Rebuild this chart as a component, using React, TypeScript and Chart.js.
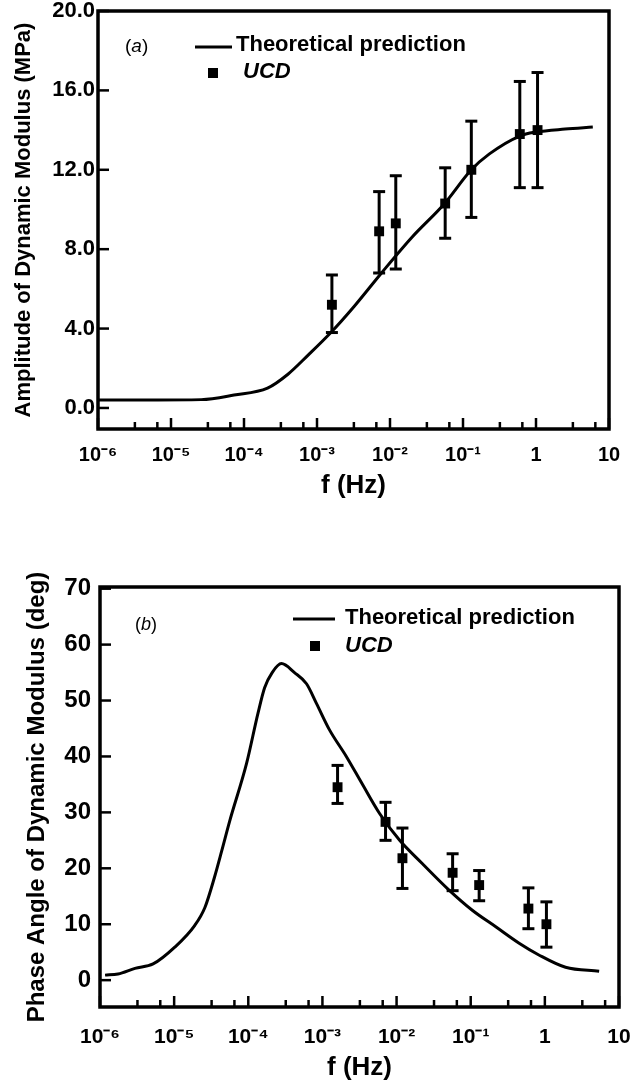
import React, { useEffect, useRef } from "react";
import { Chart, registerables } from "chart.js";

Chart.register(...registerables);

const FONT = "'Liberation Sans', Arial, Helvetica, sans-serif";

// ---- shared frequency axis ----
const freqTicks = [1e-6, 1e-5, 1e-4, 1e-3, 1e-2, 1e-1, 1, 10];
const freqTickLabels = ["10⁻⁶", "10⁻⁵", "10⁻⁴", "10⁻³", "10⁻²", "10⁻¹", "1", "10"];
const minorTickFactors = [3.2, 6.5];

// ---- UCD measurement frequencies (Hz) ----
const freqUCD = [0.0016, 0.0071, 0.012, 0.057, 0.13, 0.6, 1.05];

// ---- (a) amplitude of dynamic modulus (MPa) ----
const ampTicks = [0, 4, 8, 12, 16, 20];
const freqAmpTheory = [1e-6, 5e-6, 2.6e-5, 7.3e-5, 2.1e-4, 4.0e-4, 7.5e-4, 1.55e-3, 3.2e-3, 7.6e-3, 0.02, 0.056, 0.13, 0.23, 0.6, 1.0, 2.5, 6.0];
const ampTheory = [0.4, 0.4, 0.42, 0.65, 1.0, 1.7, 2.65, 3.8, 5.1, 6.79, 8.6, 10.3, 12.0, 12.8, 13.7, 13.9, 14.05, 14.15];
const ampUCD = [5.2, 8.9, 9.3, 10.3, 12.0, 13.8, 14.0];
const ampErrLow = [3.8, 6.8, 7.0, 8.55, 9.6, 11.1, 11.1];
const ampErrHigh = [6.7, 10.9, 11.7, 12.1, 14.45, 16.45, 16.9];

// ---- (b) phase angle of dynamic modulus (deg) ----
const phaseTicks = [0, 10, 20, 30, 40, 50, 60, 70];
const freqPhaseTheory = [1.17e-6, 1.75e-6, 2.96e-6, 5.2e-6, 1.02e-5, 1.9e-5, 2.6e-5, 3.5e-5, 4.4e-5, 5.6e-5, 9.5e-5, 1.35e-4, 1.66e-4, 2.1e-4, 2.8e-4, 4.2e-4, 6.1e-4, 8.3e-4, 1.24e-3, 2.1e-3, 3.4e-3, 5.9e-3, 0.011, 0.022, 0.051, 0.105, 0.22, 0.45, 0.83, 1.9, 5.4];
const phaseTheory = [0.9, 1.1, 2.1, 2.9, 5.9, 9.8, 13, 18.4, 23.2, 28.4, 38.8, 47.7, 52.3, 55, 56.6, 55, 53, 49.5, 44.8, 40.0, 35.2, 29.8, 25, 20.9, 16.1, 12.5, 9.5, 6.6, 4.5, 2.3, 1.6];
const phaseUCD = [34.5, 28.3, 21.8, 19.2, 17.0, 12.8, 10.0];
const phaseErrLow = [31.6, 25.0, 16.4, 16.0, 14.2, 9.2, 5.9];
const phaseErrHigh = [38.4, 31.8, 27.2, 22.6, 19.6, 16.5, 14.0];

const LEGEND_LINE = "Theoretical prediction";
const LEGEND_POINTS = "UCD";

function line(ctx: CanvasRenderingContext2D, x1: number, y1: number, x2: number, y2: number) {
  ctx.beginPath();
  ctx.moveTo(x1, y1);
  ctx.lineTo(x2, y2);
  ctx.stroke();
}

const framePlugin = {
  id: "frame",
  afterDraw(chart: any, _args: any, opts: any) {
    const { ctx, chartArea } = chart;
    const { left, right, top, bottom } = chartArea;
    const xs = chart.scales.x;
    const ys = chart.scales.y;
    ctx.save();
    ctx.strokeStyle = "#000";
    ctx.lineWidth = 2.5;
    xs.ticks.forEach((t: any) => {
      const px = xs.getPixelForValue(t.value);
      line(ctx, px, bottom, px, bottom - opts.major);
    });
    for (let i = 0; i < freqTicks.length - 1; i++) {
      for (const m of minorTickFactors) {
        const px = xs.getPixelForValue(freqTicks[i] * m);
        line(ctx, px, bottom, px, bottom - opts.minor);
      }
    }
    ys.ticks.forEach((t: any) => {
      const py = ys.getPixelForValue(t.value);
      line(ctx, left, py, left + opts.major, py);
    });
    ctx.lineWidth = 3.5;
    ctx.strokeRect(left, top, right - left, bottom - top);
    ctx.restore();
  },
};

const errorBarPlugin = {
  id: "errorBars",
  afterDatasetsDraw(chart: any, _args: any, opts: any) {
    const { ctx } = chart;
    const xs = chart.scales.x;
    const ys = chart.scales.y;
    ctx.save();
    ctx.strokeStyle = "#000";
    ctx.lineWidth = opts.lineWidth;
    opts.x.forEach((f: number, i: number) => {
      const px = xs.getPixelForValue(f);
      const y1 = ys.getPixelForValue(opts.low[i]);
      const y2 = ys.getPixelForValue(opts.high[i]);
      line(ctx, px, y1, px, y2);
      line(ctx, px - opts.cap / 2, y1, px + opts.cap / 2, y1);
      line(ctx, px - opts.cap / 2, y2, px + opts.cap / 2, y2);
    });
    ctx.restore();
  },
};

const legendPlugin = {
  id: "inlineLegend",
  afterDraw(chart: any, _args: any, o: any) {
    const { ctx } = chart;
    const ds = chart.data.datasets;
    ctx.save();
    ctx.strokeStyle = "#000";
    ctx.fillStyle = "#000";
    ctx.lineWidth = 3;
    line(ctx, o.lineX1, o.lineY, o.lineX2, o.lineY);
    ctx.textBaseline = "middle";
    ctx.textAlign = "left";
    ctx.font = `bold ${o.size}px ${FONT}`;
    ctx.fillText(ds[0].label, o.textX, o.textY);
    ctx.fillRect(o.markX - o.mark / 2, o.markY - o.mark / 2, o.mark, o.mark);
    ctx.font = `italic bold ${o.size}px ${FONT}`;
    ctx.fillText(ds[1].label, o.text2X, o.text2Y);
    // panel label "(a)" / "(b)"
    let x = o.panelX;
    const parts = [
      { t: "(", f: `${o.panelSize}px ${FONT}` },
      { t: o.panel, f: `italic ${o.panelSize}px ${FONT}` },
      { t: ")", f: `${o.panelSize}px ${FONT}` },
    ];
    for (const p of parts) {
      ctx.font = p.f;
      ctx.fillText(p.t, x, o.panelY);
      x += ctx.measureText(p.t).width;
    }
    ctx.restore();
  },
};

function makeConfig(p: any) {
  const font = (size: number, weight = "bold") => ({ family: FONT, size, weight });
  return {
    type: "line",
    data: {
      datasets: [
        {
          label: LEGEND_LINE,
          data: p.theoryX.map((f: number, i: number) => ({ x: f, y: p.theoryY[i] })),
          borderColor: "#000",
          backgroundColor: "#000",
          borderWidth: 3,
          pointRadius: 0,
          cubicInterpolationMode: "monotone",
          fill: false,
        },
        {
          label: LEGEND_POINTS,
          data: freqUCD.map((f, i) => ({ x: f, y: p.ucd[i] })),
          showLine: false,
          pointStyle: "rect",
          pointRadius: 7,
          backgroundColor: "#000",
          borderColor: "#000",
          borderWidth: 0,
        },
      ],
    },
    options: {
      animation: false,
      responsive: false,
      maintainAspectRatio: false,
      events: [],
      layout: { padding: { left: 0, right: p.padRight, top: p.padTop, bottom: 0 } },
      plugins: {
        legend: { display: false },
        tooltip: { enabled: false },
        frame: { major: 11, minor: 7 },
        errorBars: { x: freqUCD, low: p.errLow, high: p.errHigh, cap: 12, lineWidth: 3 },
        inlineLegend: p.legend,
      },
      scales: {
        x: {
          type: "logarithmic",
          position: "bottom",
          min: 1e-6,
          max: 10,
          afterBuildTicks: (s: any) => {
            s.ticks = freqTicks.map((v) => ({ value: v }));
          },
          afterFit: (s: any) => {
            s.height = p.xHeight;
            s.paddingLeft = 0;
            s.paddingRight = 0;
          },
          ticks: {
            autoSkip: false,
            maxRotation: 0,
            minRotation: 0,
            padding: p.xTickPad,
            color: "#000",
            font: font(p.xTickSize),
            callback: (_v: any, i: number) => freqTickLabels[i],
          },
          grid: { display: false, drawTicks: false },
          border: { display: false },
          title: {
            display: true,
            text: "f (Hz)",
            color: "#000",
            font: font(26),
            padding: { top: 0, bottom: p.xTitlePad },
          },
        },
        y: {
          type: "linear",
          position: "left",
          min: p.yMin,
          max: p.yMax,
          afterBuildTicks: (s: any) => {
            s.ticks = p.yTicks.map((v: number) => ({ value: v }));
          },
          afterFit: (s: any) => {
            s.width = p.yWidth;
            s.paddingTop = 0;
            s.paddingBottom = 0;
          },
          ticks: {
            padding: p.yTickPad,
            color: "#000",
            font: font(p.yTickSize),
            callback: p.yFormat,
          },
          grid: { display: false, drawTicks: false },
          border: { display: false },
          title: {
            display: true,
            text: p.yTitle,
            color: "#000",
            font: font(p.yTitleSize),
            padding: { top: p.yTitlePad, bottom: 0 },
          },
        },
      },
    },
    plugins: [framePlugin, errorBarPlugin, legendPlugin],
  };
}

const amplitudeConfig = () =>
  makeConfig({
    theoryX: freqAmpTheory,
    theoryY: ampTheory,
    ucd: ampUCD,
    errLow: ampErrLow,
    errHigh: ampErrHigh,
    yMin: -1.06,
    yMax: 20,
    yTicks: ampTicks,
    yFormat: (v: number) => Number(v).toFixed(1),
    yTitle: "Amplitude of Dynamic Modulus (MPa)",
    yTitleSize: 22,
    yTitlePad: 11,
    yTickSize: 22,
    yTickPad: 3,
    yWidth: 98,
    xHeight: 76,
    xTickPad: 14,
    xTickSize: 20,
    xTitlePad: 4,
    padTop: 11,
    padRight: 22,
    legend: {
      lineX1: 195, lineX2: 232, lineY: 47,
      textX: 236, textY: 45, size: 22,
      markX: 213, markY: 73, mark: 10,
      text2X: 243, text2Y: 72,
      panel: "a", panelX: 125, panelY: 47, panelSize: 19,
    },
  });

const phaseConfig = () =>
  makeConfig({
    theoryX: freqPhaseTheory,
    theoryY: phaseTheory,
    ucd: phaseUCD,
    errLow: phaseErrLow,
    errHigh: phaseErrHigh,
    yMin: -4.8,
    yMax: 70.3,
    yTicks: phaseTicks,
    yFormat: (v: number) => String(v),
    yTitle: "Phase Angle of Dynamic Modulus (deg)",
    yTitleSize: 24,
    yTitlePad: 23,
    yTickSize: 24,
    yTickPad: 9,
    yWidth: 100,
    xHeight: 81,
    xTickPad: 18,
    xTickSize: 21,
    xTitlePad: 5,
    padTop: 82,
    padRight: 12,
    legend: {
      lineX1: 293, lineX2: 335, lineY: 114,
      textX: 345, textY: 113, size: 22,
      markX: 315, markY: 141, mark: 10,
      text2X: 345, text2Y: 141,
      panel: "b", panelX: 135, panelY: 120, panelSize: 18,
    },
  });

function PanelChart({ makeCfg, top, height }: { makeCfg: () => any; top: number; height: number }) {
  const ref = useRef<HTMLCanvasElement>(null);
  useEffect(() => {
    if (!ref.current) return;
    const chart = new Chart(ref.current, makeCfg());
    return () => chart.destroy();
  }, []);
  return (
    <canvas
      ref={ref}
      width={631}
      height={height}
      style={{ position: "absolute", left: 0, top, width: 631, height, display: "block" }}
    />
  );
}

export default function App() {
  return (
    <div
      style={{
        position: "fixed",
        left: 0,
        top: 0,
        width: 631,
        height: 1088,
        overflow: "hidden",
        background: "#fff",
      }}
    >
      <PanelChart makeCfg={amplitudeConfig} top={0} height={505} />
      <PanelChart makeCfg={phaseConfig} top={505} height={583} />
    </div>
  );
}
